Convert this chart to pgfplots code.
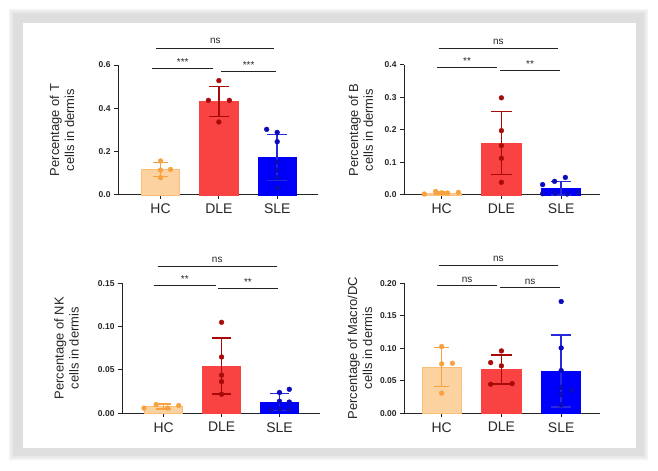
\documentclass[border=0pt]{standalone}
\usepackage{fontspec}
\setmainfont{Liberation Sans}
\usepackage{pgfplots}
\pgfplotsset{compat=1.18}

\definecolor{hcfill}{RGB}{251,210,160}
\definecolor{hcedge}{RGB}{250,190,120}
\definecolor{hcdark}{RGB}{247,162,62}
\definecolor{dlefill}{RGB}{249,66,66}
\definecolor{dledark}{RGB}{168,10,10}
\definecolor{slefill}{RGB}{0,0,250}
\definecolor{sledark}{RGB}{10,10,190}
\definecolor{sleerr}{RGB}{40,40,220}
\definecolor{axgray}{RGB}{35,35,35}

\tikzset{
  sig/.style={line width=1bp, axgray},
  sigtxt/.style={font=\fontsize{10}{12}\selectfont, text=black!85},
}

\pgfplotsset{
  panel/.style={
    scale only axis, height=130bp, anchor=south west,
    axis x line*=bottom, axis y line*=left,
    axis line style={axgray, line width=1bp},
    xtick={0,1,2}, xticklabels={HC,DLE,SLE},
    ymin=0, clip=false,
    tick align=outside, major tick length=4bp,
    tick style={axgray, line width=1bp},
    x tick label style={font=\fontsize{14}{16}\selectfont, text=black!85, yshift=-1.5bp},
    y tick label style={font=\bfseries\fontsize{8.5}{10}\selectfont, text=black!85},
    /pgf/number format/assume math mode=true,
    /pgf/number format/fixed, /pgf/number format/fixed zerofill,
    ylabel style={font=\fontsize{13}{15}\selectfont, align=center, anchor=center, text=black!85},
  },
  bar/.style={ybar, bar width=0.66, line width=0.8bp, forget plot},
  pts/.style={only marks, mark=*, mark size=2.4bp, draw=#1, fill=#1, forget plot},
}

% \errbar{color}{x-left cap}{x}{x-right cap}{mean-sd}{mean+sd}
\newcommand{\errbar}[6]{%
  \addplot[draw=#1, line width=1.4bp, mark=none, forget plot] coordinates {(#3,#5) (#3,#6)};
  \addplot[draw=#1, line width=1.4bp, mark=none, forget plot] coordinates {(#2,#6) (#4,#6)};
  \addplot[draw=#1, line width=1.4bp, mark=none, forget plot] coordinates {(#2,#5) (#4,#5)};}

\begin{document}
\begin{tikzpicture}
\path[use as bounding box] (0,0) rectangle (658bp,471bp);
\fill[white] (0,0) rectangle (658bp,471bp);
\fill[black!5] (9bp,11bp) rectangle (648bp,462bp);
\fill[black!9] (11bp,13bp) rectangle (646bp,460bp);
\fill[black!13] (13bp,15bp) rectangle (644bp,458bp);
\fill[white] (23bp,23bp) rectangle (636bp,448bp);

% ---------- Panel 1: T cells ----------
\begin{axis}[panel, at={(118bp,276bp)}, width=200bp,
  xmin=-0.73, xmax=2.7, ymax=0.6, ytick={0,0.2,0.4,0.6},
  /pgf/number format/precision=1,
  ylabel={Percentage of T\\cells in dermis},
  ylabel style={at={(axis description cs:-0.28,0.5)}}]
\addplot[bar, fill=hcfill, draw=hcedge] coordinates {(0,0.117)};
\addplot[bar, fill=dlefill, draw=dlefill] coordinates {(1,0.431)};
\addplot[bar, fill=slefill, draw=slefill] coordinates {(2,0.174)};
\errbar{hcdark}{-0.13}{0}{0.13}{0.085}{0.149}
\errbar{dledark}{0.83}{1}{1.17}{0.362}{0.500}
\errbar{sleerr}{1.83}{2}{2.17}{0.068}{0.280}
\addplot[pts=hcdark] coordinates {(0,0.157) (0,0.115) (0.17,0.118) (0,0.080)};
\addplot[pts=dledark] coordinates {(1,0.528) (0.82,0.437) (1.18,0.437) (1,0.337)};
\addplot[pts=sledark] coordinates {(1.82,0.303) (2,0.289) (2,0.246) (2,0.151) (2,0.115) (2,0.081) (2,0.034)};
\draw[sig] (axis cs:-0.07,0.678) -- (axis cs:1.95,0.678) node[midway, above=0.5bp, sigtxt] {ns};
\draw[sig] (axis cs:-0.14,0.586) -- (axis cs:0.9,0.586) node[midway, above=-1bp, sigtxt] {***};
\draw[sig] (axis cs:1.04,0.572) -- (axis cs:1.98,0.572) node[midway, above=-1bp, sigtxt] {***};
\end{axis}

% ---------- Panel 2: B cells ----------
\begin{axis}[panel, at={(404bp,276bp)}, width=196bp,
  xmin=-0.63, xmax=2.65, ymax=0.4, ytick={0,0.1,0.2,0.3,0.4},
  /pgf/number format/precision=1,
  ylabel={Percentage of B\\cells in dermis},
  ylabel style={at={(axis description cs:-0.22,0.5)}}]
\addplot[bar, fill=hcfill, draw=hcedge] coordinates {(0,0.006)};
\addplot[bar, fill=dlefill, draw=dlefill] coordinates {(1,0.160)};
\addplot[bar, fill=slefill, draw=slefill] coordinates {(2,0.021)};
\errbar{hcdark}{-0.13}{0}{0.13}{0.003}{0.009}
\errbar{dledark}{0.83}{1}{1.17}{0.063}{0.257}
\errbar{sleerr}{1.83}{2}{2.17}{0.000}{0.042}
\addplot[pts=hcdark] coordinates {(-0.29,0.003) (-0.1,0.011) (0,0.007) (0.1,0.006) (0.28,0.008)};
\addplot[pts=dledark] coordinates {(1,0.299) (1,0.198) (1,0.152) (1,0.113) (1,0.039)};
\addplot[pts=sledark] coordinates {(1.69,0.032) (1.89,0.042) (2.07,0.054) (1.69,0.004) (1.9,0.006) (2.1,0.003) (2.28,0.007)};
\draw[sig] (axis cs:-0.05,0.451) -- (axis cs:1.95,0.451) node[midway, above=0.5bp, sigtxt] {ns};
\draw[sig] (axis cs:-0.08,0.393) -- (axis cs:0.93,0.393) node[midway, above=-1bp, sigtxt] {**};
\draw[sig] (axis cs:0.98,0.383) -- (axis cs:1.98,0.383) node[midway, above=-1bp, sigtxt] {**};
\end{axis}

% ---------- Panel 3: NK cells ----------
\begin{axis}[panel, at={(122bp,57.7bp)}, width=198bp,
  xmin=-0.72, xmax=2.7, ymax=0.15, ytick={0,0.05,0.10,0.15},
  /pgf/number format/precision=2,
  ylabel={Percentage of NK\\cells in dermis},
  ylabel style={at={(axis description cs:-0.28,0.5)}}]
\addplot[bar, fill=hcfill, draw=hcedge] coordinates {(0,0.0078)};
\addplot[bar, fill=dlefill, draw=dlefill] coordinates {(1,0.0546)};
\addplot[bar, fill=slefill, draw=slefill] coordinates {(2,0.0131)};
\errbar{hcdark}{-0.13}{0}{0.13}{0.0048}{0.0108}
\errbar{dledark}{0.83}{1}{1.17}{0.0221}{0.0871}
\errbar{sleerr}{1.83}{2}{2.17}{0.0032}{0.0230}
\addplot[pts=hcdark] coordinates {(-0.34,0.006) (-0.13,0.010) (0.07,0.006) (0.26,0.009)};
\addplot[pts=dledark] coordinates {(1,0.105) (1,0.065) (1,0.044) (1,0.0365) (1,0.022)};
\addplot[pts=sledark] coordinates {(2,0.024) (2.17,0.0277) (2,0.014) (2.17,0.013) (2,0.005) (2.17,0.004) (1.85,0.004)};
\draw[sig] (axis cs:-0.1,0.169) -- (axis cs:1.95,0.169) node[midway, above=0.5bp, sigtxt] {ns};
\draw[sig] (axis cs:-0.17,0.148) -- (axis cs:0.9,0.148) node[midway, above=-1bp, sigtxt] {**};
\draw[sig] (axis cs:0.94,0.144) -- (axis cs:1.97,0.144) node[midway, above=-1bp, sigtxt] {**};
\end{axis}

% ---------- Panel 4: Macro/DC ----------
\begin{axis}[panel, at={(404bp,57.7bp)}, width=196bp,
  xmin=-0.63, xmax=2.65, ymax=0.20, ytick={0,0.05,0.10,0.15,0.20},
  /pgf/number format/precision=2,
  ylabel={Percentage of Macro/DC\\cells in dermis},
  ylabel style={at={(axis description cs:-0.225,0.5)}}]
\addplot[bar, fill=hcfill, draw=hcedge] coordinates {(0,0.0708)};
\addplot[bar, fill=dlefill, draw=dlefill] coordinates {(1,0.0675)};
\addplot[bar, fill=slefill, draw=slefill] coordinates {(2,0.0651)};
\errbar{hcdark}{-0.13}{0}{0.13}{0.0408}{0.1008}
\errbar{dledark}{0.83}{1}{1.17}{0.0452}{0.0898}
\errbar{sleerr}{1.83}{2}{2.17}{0.0098}{0.1204}
\addplot[pts=hcdark] coordinates {(0,0.1026) (0,0.076) (0.18,0.077) (0,0.031)};
\addplot[pts=dledark] coordinates {(1,0.096) (0.82,0.078) (1,0.073) (0.82,0.0447) (1.18,0.0457)};
\addplot[pts=sledark] coordinates {(2,0.172) (2,0.1006) (2,0.0657) (2,0.040) (2.18,0.0354) (2,0.0288) (2,0.013)};
\draw[sig] (axis cs:-0.05,0.227) -- (axis cs:1.95,0.227) node[midway, above=0.5bp, sigtxt] {ns};
\draw[sig] (axis cs:-0.08,0.197) -- (axis cs:0.93,0.197) node[midway, above=-1bp, sigtxt] {ns};
\draw[sig] (axis cs:0.98,0.194) -- (axis cs:1.98,0.194) node[midway, above=-1bp, sigtxt] {ns};
\end{axis}
\end{tikzpicture}
\end{document}
